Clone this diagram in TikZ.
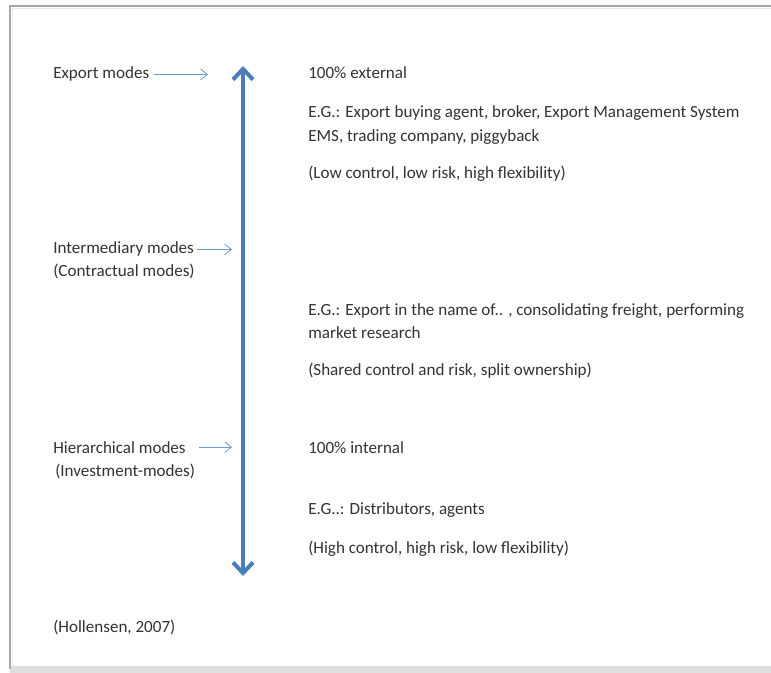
\documentclass[tikz,border=0pt]{standalone}
\usepackage{fontspec}
\setmainfont{Carlito}
\usetikzlibrary{arrows.meta}
\definecolor{txt}{HTML}{333333}
\definecolor{bigblue}{HTML}{4A7EBB}
\definecolor{thinblue}{HTML}{6F9AD0}
\definecolor{frame}{HTML}{A8A8A8}
\begin{document}
\begin{tikzpicture}[x=0.75pt,y=-0.75pt,
  lbl/.style={anchor=base west,inner sep=0pt,text=txt,font=\fontsize{12.8}{14}\selectfont},
  thin/.style={draw=thinblue,line width=0.6pt,-{Straight Barb[length=5pt,width=8pt]}},
  big/.style={draw=bigblue,line width=3pt,{Straight Barb[length=8pt,width=15pt,line width=3pt]}-{Straight Barb[length=8pt,width=15pt,line width=3pt]}}]
\useasboundingbox (0,0) rectangle (771,673);
\fill[white] (0,0) rectangle (771,673);
% frame
\fill[gray!25] (10,666) rectangle (771,673);
\draw[frame,line width=1.2pt] (771,6) -- (10,6) -- (10,669);
\draw[gray!15,line width=1pt] (771,8.5) -- (12.5,8.5) -- (12.5,666);
% left column
\node[lbl] (exp) at (53,79) {Export modes};
\node[lbl] (int1) at (53,254) {Intermediary modes};
\node[lbl] (int2) at (53,277) {(Contractual modes)};
\node[lbl] (hie1) at (53,453) {Hierarchical modes};
\node[lbl] (hie2) at (55,476) {(Investment-modes)};
\node[lbl] (ref) at (53,632) {(Hollensen, 2007)};
% right column
\node[lbl] (ext) at (308,79) {100\% external};
\node[lbl] (eg1a) at (308,118) {E.G.: Export buying agent, broker, Export Management System};
\node[lbl] (eg1b) at (308,142) {EMS, trading company, piggyback};
\node[lbl] (low) at (308,179) {(Low control, low risk, high flexibility)};
\node[lbl] (eg2a) at (308,316) {E.G.: Export in the name of.. , consolidating freight, performing};
\node[lbl] (eg2b) at (308,339) {market research};
\node[lbl] (sha) at (308,376) {(Shared control and risk, split ownership)};
\node[lbl] (inl) at (308,453) {100\% internal};
\node[lbl] (eg3) at (308,514) {E.G..: Distributors, agents};
\node[lbl] (hig) at (308,553) {(High control, high risk, low flexibility)};
% big arrow
\coordinate (top) at (243,66);
\coordinate (bot) at (243,576);
\draw[big] (top) -- (bot);
% thin arrows
\coordinate (e1) at (208,74);
\coordinate (e2) at (232,249);
\coordinate (e3) at (232,448);
\draw[thin,shorten <=3pt] (exp.east) -- (exp.east -| e1);
\draw[thin,shorten <=2pt] (int1.east) -- (int1.east -| e2);
\draw[thin,shorten <=10pt] (hie1.east) -- (hie1.east -| e3);
\end{tikzpicture}
\end{document}
